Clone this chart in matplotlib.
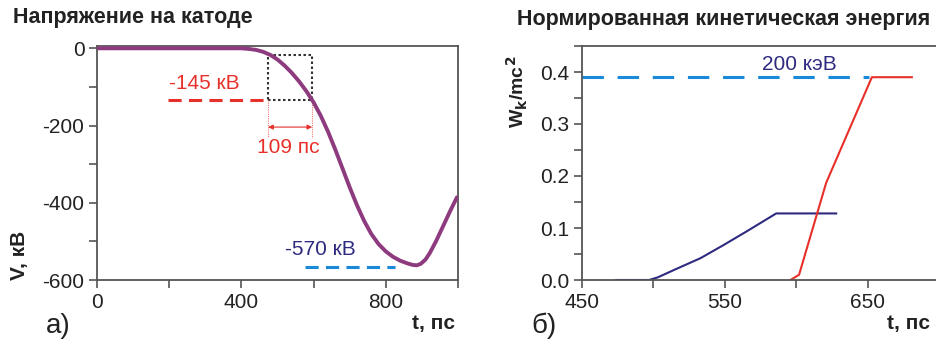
import matplotlib
matplotlib.use("Agg")
import matplotlib.pyplot as plt
from matplotlib.ticker import MultipleLocator, FixedLocator, FormatStrFormatter

plt.rcParams['font.family'] = ['Liberation Sans', 'DejaVu Sans']
plt.rcParams['axes.unicode_minus'] = False

# ---- data: cathode voltage ----
t_v = [0, 100, 200, 300, 380, 400, 420, 440, 460, 480, 500, 520, 540, 560, 580, 600,
       620, 640, 660, 680, 700, 720, 740, 760, 780, 800, 820, 840, 860, 875, 886,
       897, 910, 922, 940, 958, 978, 997]
V = [0, 0, 0, 0, 0, 0, -1.5, -4, -9, -17, -29, -45, -64, -86, -111, -140,
     -175, -216, -262, -311, -360, -406, -447, -481, -507, -526, -540, -550, -557,
     -561, -562, -558, -547, -530, -498, -462, -422, -386]

# ---- data: normalized kinetic energy ----
t_blue = [474, 497, 503, 515, 533, 549, 565, 586, 628]
w_blue = [0.0, 0.0, 0.005, 0.02, 0.042, 0.067, 0.093, 0.128, 0.128]
t_red = [596, 602, 621, 653, 681]
w_red = [0.0, 0.01, 0.187, 0.39, 0.39]

W_200keV = 0.39
V_145 = -133
V_570 = -566
box_t = [474, 596]
box_v = [-18, -133]

purple = '#8e3a7e'
red = '#e8302a'
navy = '#2e2a80'
lblue = '#1a8ad8'
spine_c = '#555555'
txt_c = '#222222'

fig = plt.figure(figsize=(9.37, 3.4), dpi=100)

def style(ax):
    for s in ax.spines.values():
        s.set_color(spine_c)
        s.set_linewidth(1.3)
    ax.tick_params(which='both', direction='out', color=spine_c, width=1.2,
                   labelsize=15, labelcolor=txt_c, length=6, pad=3)

# ---- left panel ----
ax1 = fig.add_axes([97/937, 1-280/340, 361/937, 234/340])
ax1.plot(t_v, V, color=purple, lw=2.8, solid_capstyle='round', solid_joinstyle='round', zorder=3)
ax1.set_xlim(0, 1000)
ax1.set_ylim(-600, 6)
ax1.xaxis.set_major_locator(MultipleLocator(400))
ax1.xaxis.set_minor_locator(MultipleLocator(200))
ax1.yaxis.set_major_locator(MultipleLocator(200))
ax1.yaxis.set_minor_locator(MultipleLocator(100))
style(ax1)

# dotted box
ax1.plot([box_t[0], box_t[1], box_t[1], box_t[0], box_t[0]],
         [box_v[1], box_v[1], box_v[0], box_v[0], box_v[1]],
         color='#333333', lw=1.5, ls=(0, (1.2, 1.2)), zorder=2)
# red dashed -145
ax1.plot([197, box_t[0]], [V_145, V_145], color=red, lw=2.2, ls=(0, (4.3, 2.4)))
ax1.text(296, -90, '-145 кВ', color=red, fontsize=15, ha='center', va='center')
# red dotted verticals and arrow
for tx in box_t:
    ax1.plot([tx, tx], [V_145, -232], color='#f07a74', lw=0.8, ls=(0, (1, 1)))
ax1.annotate('', xy=(box_t[0], -204), xytext=(box_t[1], -204),
             arrowprops=dict(arrowstyle='<|-|>', color=red, lw=0.8,
                             mutation_scale=7, shrinkA=0, shrinkB=0))
ax1.text(530, -258, '109 пс', color=red, fontsize=15, ha='center', va='center')
# -570
ax1.plot([576, 825], [V_570, V_570], color=lblue, lw=2.2, ls=(0, (4.3, 2.4)))
ax1.text(620, -522, '-570 кВ', color=navy, fontsize=15, ha='center', va='center')

fig.text(20/937, 1-255/340, 'V, кВ', rotation=90, fontsize=15, fontweight='bold',
         ha='center', va='center', color=txt_c)
fig.text(13/937, 1-18/340, 'Напряжение на катоде', fontsize=15.5, fontweight='bold',
         ha='left', va='center', color=txt_c)
fig.text(455/937, 1-324/340, 't, пс', fontsize=15, fontweight='bold',
         ha='right', va='center', color=txt_c)
fig.text(46/937, 1-326/340, 'а)', fontsize=20, ha='left', va='center', color=txt_c)

# ---- right panel ----
ax2 = fig.add_axes([582/937, 1-280/340, 357/937, 234/340])
ax2.plot(t_blue, w_blue, color=navy, lw=1.5)
ax2.plot(t_red, w_red, color=red, lw=1.5)
ax2.plot([450, 651], [W_200keV, W_200keV], color=lblue, lw=2.2, ls=(0, (7, 4.5)))
ax2.text(602, 0.415, '200 кэВ', color=navy, fontsize=15, ha='center', va='center')
ax2.set_xlim(450, 700)
ax2.set_ylim(0, 0.45)
ax2.xaxis.set_major_locator(FixedLocator([450, 550, 650]))
ax2.xaxis.set_minor_locator(FixedLocator([500, 600, 700]))
ax2.yaxis.set_major_locator(MultipleLocator(0.1))
ax2.yaxis.set_minor_locator(MultipleLocator(0.05))
ax2.yaxis.set_major_formatter(FormatStrFormatter('%.1f'))
style(ax2)

fig.text(517/937, 1-92/340, r'W$_\mathbf{k}$/mc$^\mathbf{2}$', rotation=90, fontsize=14,
         fontweight='bold', ha='center', va='center', color=txt_c)
fig.text(930/937, 1-20/340, 'Нормированная кинетическая энергия', fontsize=15.5,
         fontweight='bold', ha='right', va='center', color=txt_c)
fig.text(930/937, 1-324/340, 't, пс', fontsize=15, fontweight='bold',
         ha='right', va='center', color=txt_c)
fig.text(531/937, 1-326/340, 'б)', fontsize=20, ha='left', va='center', color=txt_c)

fig.savefig('out.png', dpi=100)
